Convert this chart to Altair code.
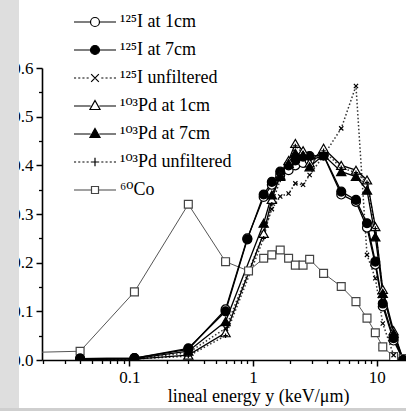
import altair as alt
import pandas as pd

# ---------------- data ----------------
energy = [0.04, 0.11, 0.30, 0.60, 0.90, 1.22, 1.42, 1.66, 1.94, 2.20,
          2.54, 2.87, 3.72, 5.17, 6.80, 8.35, 9.75, 11.2, 13.7, 16.4]

i125_1cm = [0.003, 0.004, 0.022, 0.104, 0.250, 0.335, 0.360, 0.380, 0.390, 0.400,
            0.405, 0.410, 0.420, 0.340, 0.325, 0.272, 0.196, 0.110, 0.040, 0.000]
i125_7cm = [0.003, 0.004, 0.024, 0.100, 0.248, 0.340, 0.366, 0.387, 0.400, 0.410,
            0.418, 0.419, 0.421, 0.346, 0.329, 0.281, 0.202, 0.116, 0.045, 0.000]
i125_unf = [0.001, 0.002, 0.015, 0.065, None, 0.260, 0.310, 0.336, 0.342, 0.363,
            0.360, 0.380, 0.420, 0.476, 0.563, 0.216, 0.168, 0.075, 0.010, 0.000]
pd103_1cm = [0.001, 0.002, 0.010, 0.056, None, 0.260, 0.330, 0.380, 0.410, 0.445,
             0.430, 0.405, 0.435, 0.400, 0.390, 0.370, 0.274, 0.145, 0.060, 0.000]
pd103_7cm = [0.002, 0.003, 0.018, 0.079, None, 0.281, 0.339, 0.377, 0.404, 0.425,
             0.421, 0.397, 0.421, 0.387, 0.377, 0.349, 0.253, 0.137, 0.055, 0.000]
pd103_unf = [0.001, 0.002, 0.008, 0.050, None, 0.250, 0.320, 0.370, 0.405, 0.440,
             0.425, 0.400, 0.430, 0.395, 0.385, 0.365, 0.270, 0.140, 0.055, 0.000]

co60_energy = [0.013, 0.04, 0.11, 0.30, 0.60, 0.92, 1.22, 1.42, 1.66, 1.94, 2.20,
               2.54, 2.87, 3.72, 5.17, 6.80, 8.35, 9.75, 11.2, 13.7, 16.4]
co60 = [0.015, 0.018, 0.140, 0.320, 0.202, 0.183, 0.209, 0.216, 0.226, 0.209, 0.195,
        0.195, 0.207, 0.178, 0.151, 0.120, 0.086, 0.056, 0.027, 0.007, 0.003]

labels = ["¹²⁵I at 1cm", "¹²⁵I at 7cm", "¹²⁵I unfiltered",
          "¹⁰³Pd at 1cm", "¹⁰³Pd at 7cm", "¹⁰³Pd unfiltered", "⁶⁰Co"]

x_major = [0.1, 1, 10]
x_minor = [0.02, 0.03, 0.04, 0.05, 0.06, 0.07, 0.08, 0.09,
           0.2, 0.3, 0.4, 0.5, 0.6, 0.7, 0.8, 0.9,
           2, 3, 4, 5, 6, 7, 8, 9]
y_major = [0.0, 0.1, 0.2, 0.3, 0.4, 0.5, 0.6]
y_minor = [0.05, 0.15, 0.25, 0.35, 0.45, 0.55]

# ---------------- table ----------------
rows = []
for lab, xs, ys in [(labels[6], co60_energy, co60),
                    (labels[0], energy, i125_1cm), (labels[1], energy, i125_7cm),
                    (labels[2], energy, i125_unf), (labels[3], energy, pd103_1cm),
                    (labels[4], energy, pd103_7cm), (labels[5], energy, pd103_unf)]:
    for xv, yv in zip(xs, ys):
        if yv is not None:
            rows.append({"series": lab, "energy": xv, "value": yv})
df = pd.DataFrame(rows)

XSHAPE = "M-1,-1L1,1M-1,1L1,-1"
PSHAPE = "M-1,0L1,0M0,-1L0,1"
shape_of = {labels[0]: "circle", labels[1]: "circle", labels[2]: XSHAPE,
            labels[3]: "triangle-up", labels[4]: "triangle-up", labels[5]: PSHAPE,
            labels[6]: "square"}
fill_of = {labels[0]: "white", labels[1]: "black", labels[2]: "transparent",
           labels[3]: "white", labels[4]: "black", labels[5]: "transparent",
           labels[6]: "white"}
stroke_of = {l: "black" for l in labels}
stroke_of[labels[6]] = "#444444"
size_of = {labels[0]: 80, labels[1]: 80, labels[2]: 18, labels[3]: 85,
           labels[4]: 85, labels[5]: 20, labels[6]: 62}
df["shp"] = df["series"].map(shape_of)
df["fillc"] = df["series"].map(fill_of)
df["strokec"] = df["series"].map(stroke_of)
df["sz"] = df["series"].map(size_of)

# legend symbol paths (line + marker)
dots_l = "".join(f"M{v:.2f},0h0.3" for v in [-3.0, -2.4, -1.8, -1.2])
dots_r = "".join(f"M{v:.2f},0h0.3" for v in [0.9, 1.5, 2.1, 2.7])
circ = "M0.64,0A0.64,0.64 0 1,1 -0.64,0A0.64,0.64 0 1,1 0.64,0Z"
tri = "M0,-0.78L0.72,0.5L-0.72,0.5Z"
sq = "M-0.5,-0.5H0.5V0.5H-0.5Z"
leg_paths = [
    "M-3,0H-0.64M0.64,0H3" + circ,
    "M-3,0H-0.64M0.64,0H3" + circ,
    dots_l + dots_r + "M-0.55,-0.55L0.55,0.55M-0.55,0.55L0.55,-0.55",
    "M-3,0H-0.62M0.62,0H3" + tri,
    "M-3,0H-0.62M0.62,0H3" + tri,
    dots_l + dots_r + "M-0.6,0H0.6M0,-0.6V0.6",
    "M-3,0H-0.5M0.5,0H3" + sq,
]
leg_fill = ["white", "black", "white", "white", "black", "white", "white"]
leg_stroke = ["black"] * 6 + ["#444444"]

FONT = "Liberation Serif"
LEGFONT = "Liberation Serif, DejaVu Serif"
xscale = alt.Scale(type="log", domain=[0.01968, 17.26], nice=False)
yscale = alt.Scale(domain=[0, 0.6], nice=False, zero=False)

ax_common = dict(labelFont=FONT, labelFontSize=17, labelColor="black",
                 tickColor="black", domainColor="black", grid=False)
x_axis_major = alt.Axis(values=x_major, format="~g", orient="bottom",
                        tickSize=6, tickWidth=1.5, domainWidth=1.6, labelPadding=3,
                        labelFlush=False, labelOverlap=False,
                        title="lineal energy y (keV/μm)", titleFont=FONT,
                        titleFontSize=18, titleFontWeight="normal", titleColor="black",
                        titlePadding=2, titleX=216, titleAlign="center", **ax_common)
y_axis_major = alt.Axis(values=y_major, format=".1f", orient="left", tickSize=6,
                        tickWidth=1.5, domainWidth=1.6, labelPadding=3,
                        labelFlush=False, labelOverlap=False, title=None, **ax_common)
x_axis_minor = alt.Axis(values=x_minor, orient="bottom", labels=False, domain=False,
                        tickSize=3.5, tickWidth=1.3, tickColor="black", grid=False, title=None)
y_axis_minor = alt.Axis(values=y_minor, orient="left", labels=False, domain=False,
                        tickSize=3.5, tickWidth=1.3, tickColor="black", grid=False, title=None)

base = alt.Chart(df)
solid = labels[0:2] + labels[3:5]
dotted = [labels[2], labels[5]]

lines_solid = base.transform_filter(
    alt.FieldOneOfPredicate(field="series", oneOf=solid)
).mark_line(color="black", strokeWidth=1.3, clip=True).encode(
    x=alt.X("energy:Q", scale=xscale, axis=x_axis_major),
    y=alt.Y("value:Q", scale=yscale, axis=y_axis_major),
    detail="series:N", order="energy:Q")

lines_dotted = base.transform_filter(
    alt.FieldOneOfPredicate(field="series", oneOf=dotted)
).mark_line(color="#333333", strokeWidth=1.5, strokeDash=[1.5, 2.2], clip=True).encode(
    x=alt.X("energy:Q", scale=xscale, axis=None),
    y=alt.Y("value:Q", scale=yscale, axis=None),
    detail="series:N", order="energy:Q")

lines_co = base.transform_filter(
    alt.FieldEqualPredicate(field="series", equal=labels[6])
).mark_line(color="#555555", strokeWidth=1.0, clip=True).encode(
    x=alt.X("energy:Q", scale=xscale, axis=None),
    y=alt.Y("value:Q", scale=yscale, axis=None),
    order="energy:Q")

points = base.mark_point(opacity=1, strokeWidth=1.2, clip=True).encode(
    x=alt.X("energy:Q", scale=xscale, axis=None),
    y=alt.Y("value:Q", scale=yscale, axis=None),
    shape=alt.Shape("shp:N", scale=None),
    fill=alt.Fill("fillc:N", scale=None),
    stroke=alt.Stroke("strokec:N", scale=None),
    size=alt.Size("sz:Q", scale=None))

leg = alt.Legend(orient="none", legendX=44, legendY=-55, title=None,
                 labelFont=LEGFONT, labelFontSize=18, labelColor="black",
                 symbolSize=196, symbolStrokeWidth=1.2, labelOffset=16,
                 symbolOffset=0, rowPadding=10, padding=0, labelLimit=400)
leg_df = pd.DataFrame({"series": labels, "energy": [1.0] * 7, "value": [-1.0] * 7})
legend_layer = alt.Chart(leg_df).mark_point(opacity=1, clip=True, size=196).encode(
    x=alt.X("energy:Q", scale=xscale, axis=x_axis_minor),
    y=alt.Y("value:Q", scale=yscale, axis=y_axis_minor),
    shape=alt.Shape("series:N", scale=alt.Scale(domain=labels, range=leg_paths), legend=leg),
    fill=alt.Fill("series:N", scale=alt.Scale(domain=labels, range=leg_fill), legend=leg),
    stroke=alt.Stroke("series:N", scale=alt.Scale(domain=labels, range=leg_stroke), legend=leg))

frame = pd.DataFrame({"k": [0]})
cover_left = alt.Chart(frame).mark_rect(color="#dedede").encode(
    x=alt.value(-42), x2=alt.value(-23), y=alt.value(-68), y2=alt.value(343))
cover_bottom = alt.Chart(frame).mark_rect(color="#cfcfcf").encode(
    x=alt.value(-42), x2=alt.value(364), y=alt.value(340), y2=alt.value(343))

chart = alt.layer(
    lines_co, lines_dotted, lines_solid, points, legend_layer, cover_left, cover_bottom
).resolve_axis(x="independent", y="independent").properties(
    width=364, height=292,
    padding={"left": 42, "top": 68, "right": 0, "bottom": 51},
    autosize=alt.AutoSizeParams(type="none"),
    background="white",
).configure_view(stroke=None)

chart.save("out.html", embed_options={"renderer": "svg", "actions": False})
